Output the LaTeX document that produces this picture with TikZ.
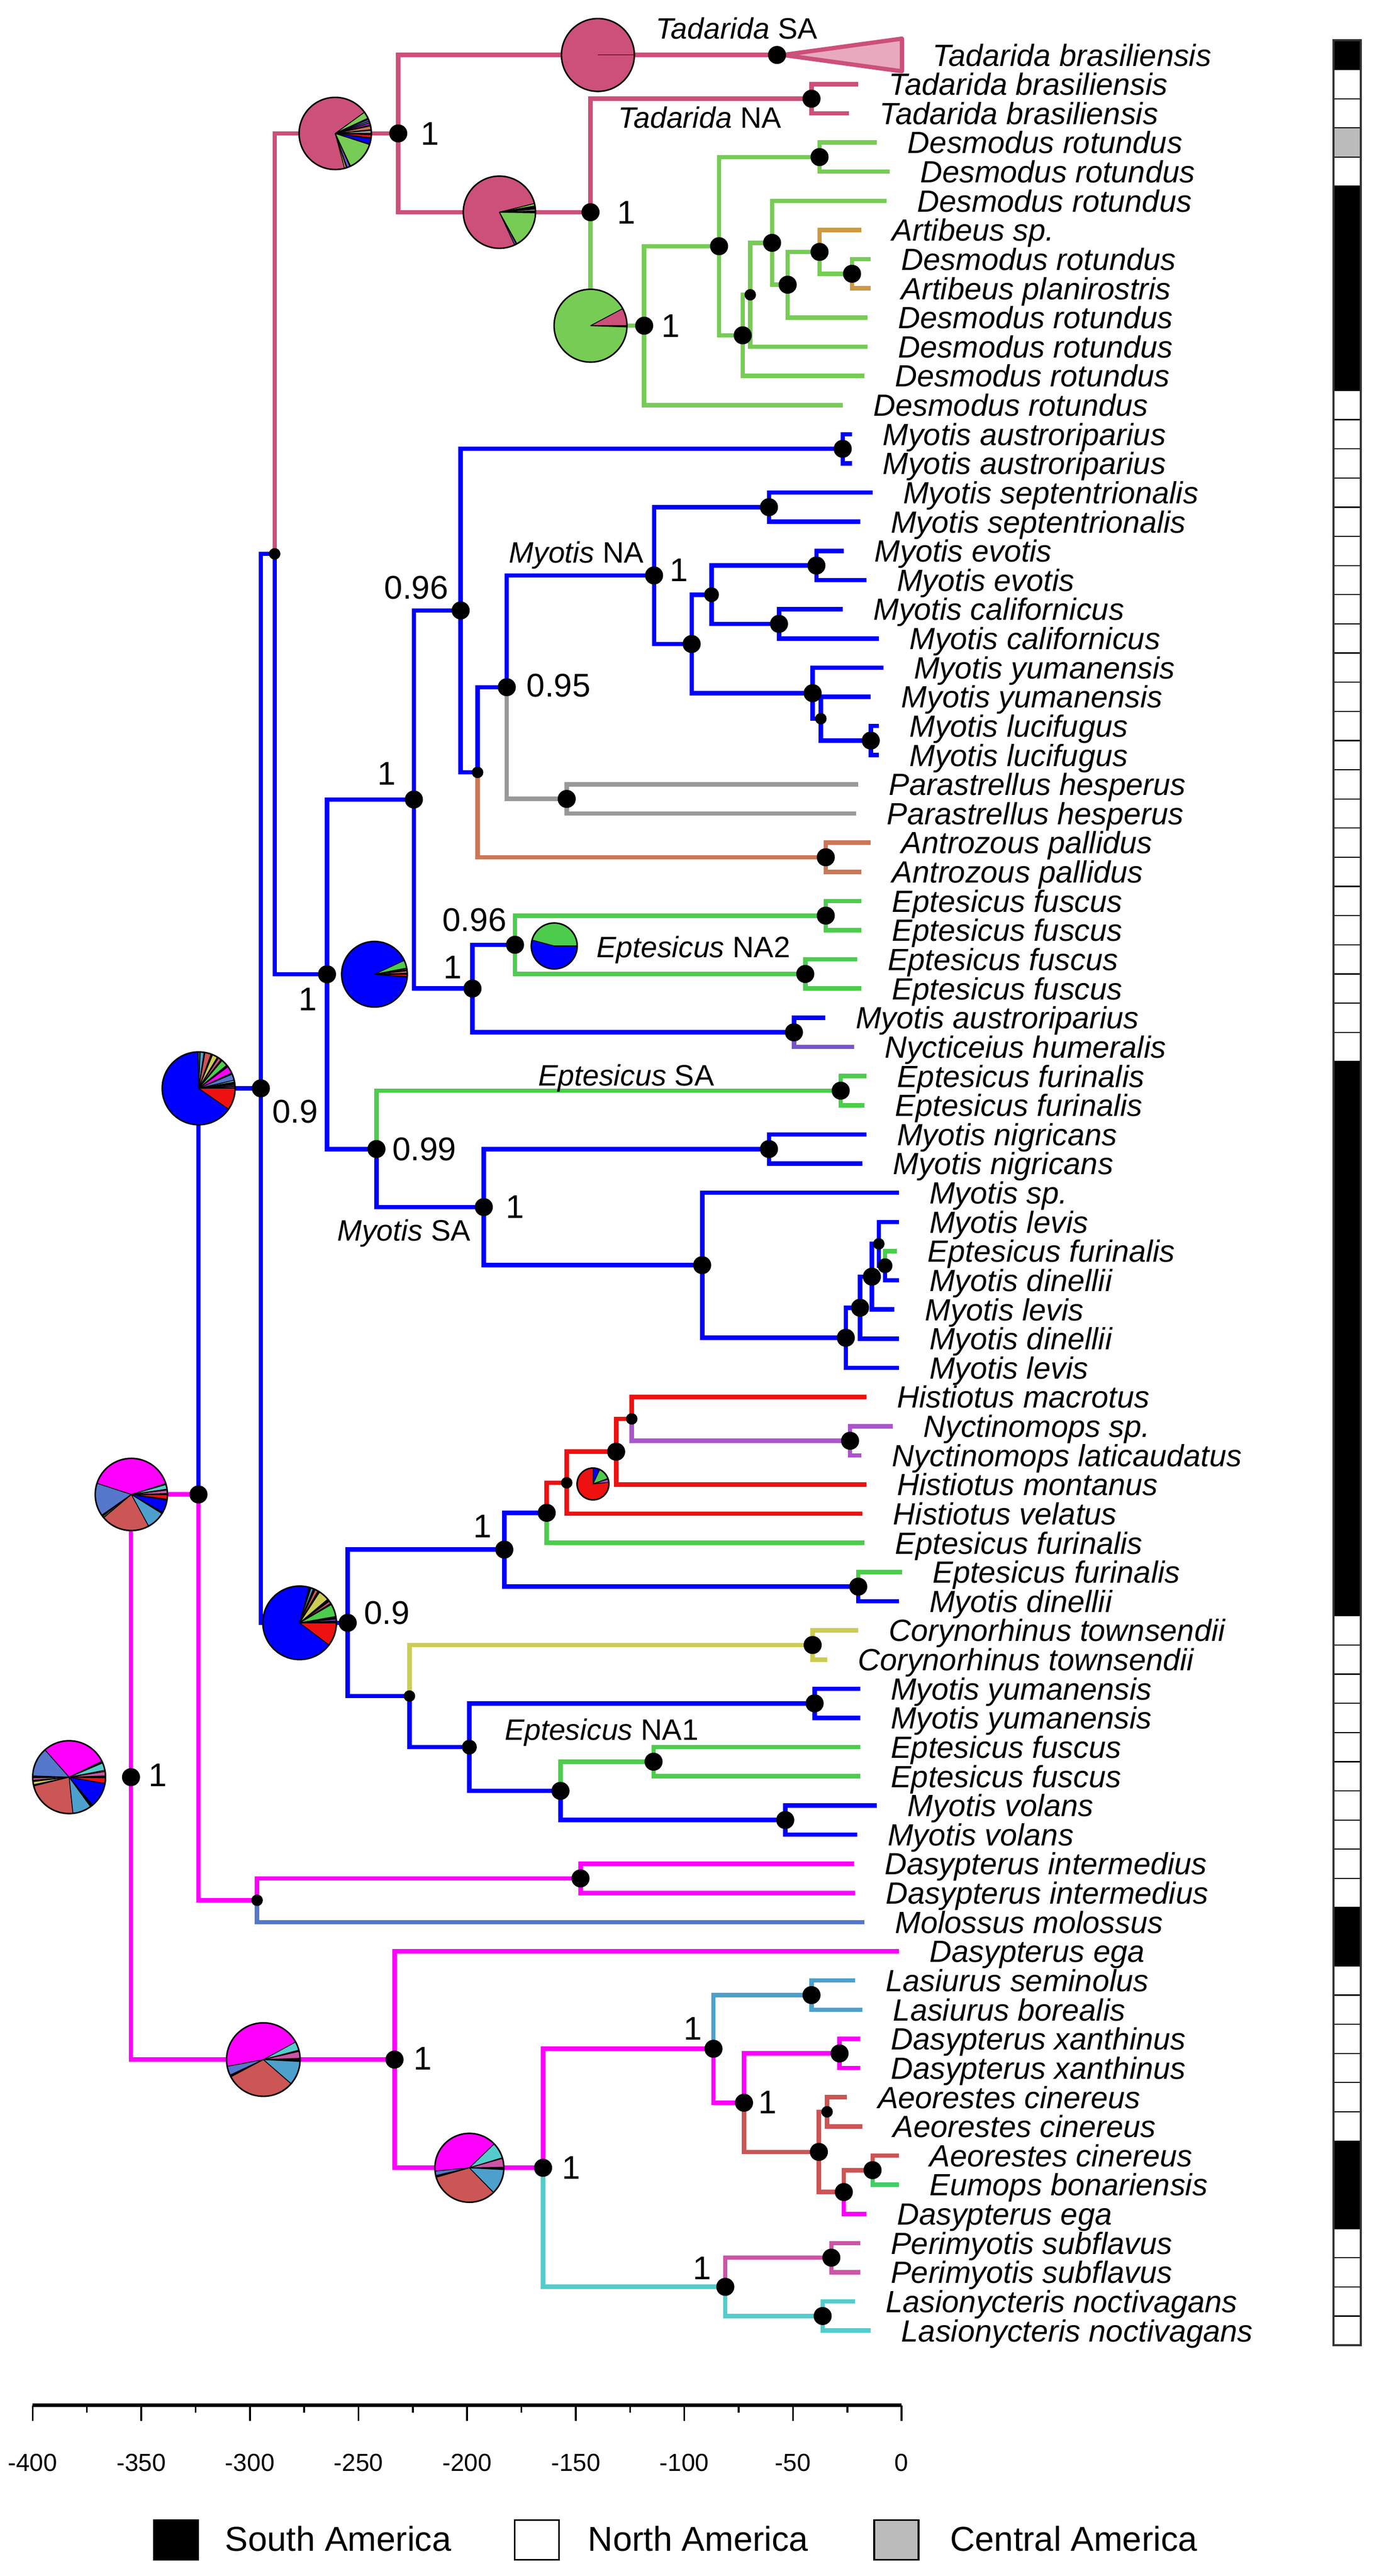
\documentclass[tikz,border=0pt]{standalone}
\usepackage{fontspec}
\setmainfont{Liberation Sans}
\definecolor{cTad}{HTML}{CC5079}
\definecolor{cTri}{HTML}{E8A9BE}
\definecolor{cDes}{HTML}{77CC55}
\definecolor{cArt}{HTML}{CC9944}
\definecolor{cMyo}{HTML}{0000FF}
\definecolor{cPar}{HTML}{999999}
\definecolor{cAnt}{HTML}{CC7755}
\definecolor{cEpt}{HTML}{4DCC4D}
\definecolor{cNyc}{HTML}{7755CC}
\definecolor{cHis}{HTML}{EE1111}
\definecolor{cNym}{HTML}{AA55CC}
\definecolor{cCor}{HTML}{CCCC55}
\definecolor{cDas}{HTML}{FF00FF}
\definecolor{cMol}{HTML}{5577CC}
\definecolor{cLas}{HTML}{4DA0CC}
\definecolor{cAeo}{HTML}{CC5555}
\definecolor{cEum}{HTML}{44CC66}
\definecolor{cPer}{HTML}{CC55A5}
\definecolor{cLsn}{HTML}{55CCCC}
\definecolor{cDkg}{HTML}{336633}
\definecolor{barGray}{HTML}{BBBBBB}
\tikzset{
 br/.style={line width=2.7pt},
 tiplab/.style={anchor=west,inner sep=0pt,xshift=18.5pt,font=\fontsize{18.7}{20}\selectfont\itshape,text height=13.4pt,text depth=0pt},
 sup/.style={inner sep=0pt,font=\fontsize{20}{22}\selectfont,text height=14.3pt,text depth=0pt},
 clade/.style={anchor=west,inner sep=0pt,font=\fontsize{18}{20}\selectfont,text height=12.9pt,text depth=0pt},
 axlab/.style={inner sep=0pt,font=\fontsize{15}{17}\selectfont,text height=10.74pt,text depth=0pt},
 leglab/.style={anchor=west,inner sep=0pt,font=\fontsize{21}{24}\selectfont,text height=15.04pt,text depth=0pt},
}
\newcommand{\brn}[3]{\draw[br,#1] (#2) |- (#3);}
\newcommand{\pienode}[3]{%
  \foreach \pa/\pb/\pc in {#3}{\fill[\pc] (#1) -- +(\pa:#2) arc[start angle=\pa, end angle=\pb, radius=#2] -- cycle;}
  \foreach \pa/\pb/\pc in {#3}{\draw[line width=0.5pt] (#1) -- +(\pa:#2);}
  \draw[line width=0.9pt] (#1) circle[radius=#2];}
\begin{document}
\begin{tikzpicture}[x=1pt,y=-17.78pt]
\begin{scope}[y=-1pt,yshift=33.5pt]
\useasboundingbox (0,0) rectangle (843,1569.9);
\end{scope}

% ---------- tips ----------
\foreach \i/\x/\nm in {0/549.4/Tadarida brasiliensis,1/522.8/Tadarida brasiliensis,2/517.0/Tadarida brasiliensis,
3/534.2/Desmodus rotundus,4/541.8/Desmodus rotundus,5/539.9/Desmodus rotundus,6/524.7/Artibeus sp.,
7/530.4/Desmodus rotundus,8/530.4/Artibeus planirostris,9/528.5/Desmodus rotundus,10/528.5/Desmodus rotundus,
11/526.6/Desmodus rotundus,12/513.3/Desmodus rotundus,13/519.0/Myotis austroriparius,14/519.0/Myotis austroriparius,
15/531.5/Myotis septentrionalis,16/523.9/Myotis septentrionalis,17/514.0/Myotis evotis,18/527.7/Myotis evotis,
19/513.3/Myotis californicus,20/535.3/Myotis californicus,21/538.0/Myotis yumanensis,22/530.4/Myotis yumanensis,
23/535.3/Myotis lucifugus,24/535.3/Myotis lucifugus,25/522.8/Parastrellus hesperus,26/521.6/Parastrellus hesperus,
27/530.4/Antrozous pallidus,28/524.7/Antrozous pallidus,29/524.7/Eptesicus fuscus,30/524.7/Eptesicus fuscus,
31/522.0/Eptesicus fuscus,32/524.7/Eptesicus fuscus,33/502.6/Myotis austroriparius,34/520.1/Nycticeius humeralis,
35/527.7/Eptesicus furinalis,36/526.6/Eptesicus furinalis,37/527.7/Myotis nigricans,38/525.4/Myotis nigricans,
39/547.5/Myotis sp.,40/547.5/Myotis levis,41/546.4/Eptesicus furinalis,42/547.5/Myotis dinellii,
43/544.8/Myotis levis,44/547.5/Myotis dinellii,45/547.5/Myotis levis,46/527.7/Histiotus macrotus,
47/543.7/Nyctinomops sp.,48/524.7/Nyctinomops laticaudatus,49/527.7/Histiotus montanus,50/525.4/Histiotus velatus,
51/526.6/Eptesicus furinalis,52/549.4/Eptesicus furinalis,53/547.5/Myotis dinellii,54/522.8/Corynorhinus townsendii,
55/503.8/Corynorhinus townsendii,56/523.9/Myotis yumanensis,57/523.9/Myotis yumanensis,58/523.9/Eptesicus fuscus,
59/523.9/Eptesicus fuscus,60/534.2/Myotis volans,61/522.0/Myotis volans,62/520.1/Dasypterus intermedius,
63/520.9/Dasypterus intermedius,64/526.6/Molossus molossus,65/547.5/Dasypterus ega,66/520.9/Lasiurus seminolus,
67/525.4/Lasiurus borealis,68/523.9/Dasypterus xanthinus,69/523.9/Dasypterus xanthinus,70/516.0/Aeorestes cinereus,
71/525.4/Aeorestes cinereus,72/547.5/Aeorestes cinereus,73/547.5/Eumops bonariensis,74/527.7/Dasypterus ega,
75/523.9/Perimyotis subflavus,76/523.9/Perimyotis subflavus,77/520.9/Lasionycteris noctivagans,78/530.4/Lasionycteris noctivagans}
{\coordinate (t\i) at (\x,\i); \node[tiplab] (l\i) at (t\i) {\nm};}

% ---------- internal nodes ----------
\coordinate (R) at (79.8,59.03);
\coordinate (P2) at (120.9,49.34);
\coordinate (P1) at (158.9,35.42);
\coordinate (S1) at (167.3,17.1);
\coordinate (T0) at (242.6,2.69);
\coordinate (TSA) at (473.3,0);
\coordinate (B) at (359.7,5.39);
\coordinate (TNA) at (494.3,1.5);
\coordinate (D0) at (392.4,9.28);
\coordinate (D1) at (438.0,6.555);
\coordinate (D2) at (499.2,3.5);
\coordinate (D3) at (452.4,9.61);
\coordinate (D4) at (457.0,8.22);
\coordinate (D5) at (470.3,6.44);
\coordinate (D6) at (479.8,7.875);
\coordinate (D7) at (499.2,6.75);
\coordinate (D8) at (519.0,7.5);
\coordinate (V1) at (199.2,31.51);
\coordinate (V2) at (252.1,25.52);
\coordinate (V3) at (229.3,37.5);
\coordinate (V4) at (280.6,19.04);
\coordinate (V5) at (287.8,32.0);
\coordinate (N13) at (513.3,13.5);
\coordinate (V6) at (290.9,24.59);
\coordinate (V7) at (308.7,21.67);
\coordinate (NAnt) at (503.0,27.5);
\coordinate (V8) at (398.4,17.84);
\coordinate (NPar) at (345.2,25.5);
\coordinate (N15) at (468.4,15.5);
\coordinate (V9) at (421.3,20.19);
\coordinate (V10) at (433.4,18.5);
\coordinate (N17) at (497.3,17.5);
\coordinate (N19) at (474.5,19.5);
\coordinate (V11) at (495.0,21.875);
\coordinate (V12) at (500.0,22.75);
\coordinate (V13) at (530.4,23.5);
\coordinate (V14) at (313.7,30.5);
\coordinate (N29) at (503.0,29.5);
\coordinate (N31) at (490.5,31.5);
\coordinate (N33) at (483.6,33.5);
\coordinate (N35) at (512.1,35.5);
\coordinate (V15) at (294.7,39.49);
\coordinate (N37) at (468.4,37.5);
\coordinate (V16) at (427.7,41.48);
\coordinate (V17) at (515.2,43.97);
\coordinate (V18) at (523.9,42.94);
\coordinate (V19) at (531.1,41.875);
\coordinate (V20) at (535.3,40.75);
\coordinate (V21) at (539.1,41.5);
\coordinate (L0) at (211.8,53.74);
\coordinate (L1) at (307.2,51.23);
\coordinate (L2) at (333.0,49.97);
\coordinate (L3) at (345.2,48.94);
\coordinate (L4) at (375.3,47.875);
\coordinate (L5) at (384.8,46.75);
\coordinate (N47) at (517.8,47.5);
\coordinate (N52) at (522.8,52.5);
\coordinate (L6) at (249.4,56.25);
\coordinate (N54) at (495.0,54.5);
\coordinate (L7) at (285.9,58.0);
\coordinate (N56) at (496.2,56.5);
\coordinate (L8) at (341.4,59.5);
\coordinate (L9) at (398.1,58.5);
\coordinate (N60) at (478.3,60.5);
\coordinate (M0) at (156.6,63.25);
\coordinate (N62) at (353.6,62.5);
\coordinate (Q0) at (240.3,68.71);
\coordinate (Q1) at (330.8,72.42);
\coordinate (Q2) at (434.6,68.34);
\coordinate (N66) at (494.3,66.5);
\coordinate (Q3) at (453.2,70.19);
\coordinate (N68) at (511.4,68.5);
\coordinate (Q4) at (498.8,71.875);
\coordinate (Q4a) at (503.8,70.5);
\coordinate (Q5) at (514.0,73.25);
\coordinate (Q5a) at (531.5,72.5);
\coordinate (Q6) at (441.8,76.5);
\coordinate (N75) at (506.4,75.5);
\coordinate (N77) at (501.1,77.5);

% ---------- branches ----------
\brn{cTad}{S1}{T0}
\brn{cTad}{T0}{TSA}
\brn{cTad}{T0}{B}
\brn{cTad}{B}{TNA}
\brn{cTad}{TNA}{t1}
\brn{cTad}{TNA}{t2}
\brn{cDes}{B}{D0}
\brn{cDes}{D0}{D1}
\brn{cDes}{D0}{t12}
\brn{cDes}{D1}{D2}
\brn{cDes}{D1}{D3}
\brn{cDes}{D2}{t3}
\brn{cDes}{D2}{t4}
\brn{cDes}{D3}{D4}
\brn{cDes}{D3}{t11}
\brn{cDes}{D4}{D5}
\brn{cDes}{D4}{t10}
\brn{cDes}{D5}{t5}
\brn{cDes}{D5}{D6}
\brn{cDes}{D6}{D7}
\brn{cDes}{D6}{t9}
\brn{cArt}{D7}{t6}
\brn{cDes}{D7}{D8}
\brn{cDes}{D8}{t7}
\brn{cArt}{D8}{t8}
\brn{cDas}{R}{P2}
\brn{cDas}{R}{Q0}
\brn{cMyo}{P2}{P1}
\brn{cDas}{P2}{M0}
\brn{cMyo}{P1}{S1}
\brn{cMyo}{P1}{L0}
\brn{cMyo}{S1}{V1}
\brn{cMyo}{V1}{V2}
\brn{cMyo}{V1}{V3}
\brn{cMyo}{V2}{V4}
\brn{cMyo}{V2}{V5}
\brn{cMyo}{V4}{N13}
\brn{cMyo}{N13}{t13}
\brn{cMyo}{N13}{t14}
\brn{cMyo}{V4}{V6}
\brn{cMyo}{V6}{V7}
\brn{cAnt}{V6}{NAnt}
\brn{cAnt}{NAnt}{t27}
\brn{cAnt}{NAnt}{t28}
\brn{cMyo}{V7}{V8}
\brn{cPar}{V7}{NPar}
\brn{cPar}{NPar}{t25}
\brn{cPar}{NPar}{t26}
\brn{cMyo}{V8}{N15}
\brn{cMyo}{N15}{t15}
\brn{cMyo}{N15}{t16}
\brn{cMyo}{V8}{V9}
\brn{cMyo}{V9}{V10}
\brn{cMyo}{V9}{V11}
\brn{cMyo}{V10}{N17}
\brn{cMyo}{V10}{N19}
\brn{cMyo}{N17}{t17}
\brn{cMyo}{N17}{t18}
\brn{cMyo}{N19}{t19}
\brn{cMyo}{N19}{t20}
\brn{cMyo}{V11}{t21}
\brn{cMyo}{V11}{V12}
\brn{cMyo}{V12}{t22}
\brn{cMyo}{V12}{V13}
\brn{cMyo}{V13}{t23}
\brn{cMyo}{V13}{t24}
\brn{cMyo}{V5}{V14}
\brn{cEpt}{V14}{N29}
\brn{cEpt}{V14}{N31}
\brn{cEpt}{N29}{t29}
\brn{cEpt}{N29}{t30}
\brn{cEpt}{N31}{t31}
\brn{cEpt}{N31}{t32}
\brn{cMyo}{V5}{N33}
\brn{cMyo}{N33}{t33}
\brn{cNyc}{N33}{t34}
\brn{cEpt}{V3}{N35}
\brn{cEpt}{N35}{t35}
\brn{cEpt}{N35}{t36}
\brn{cMyo}{V3}{V15}
\brn{cMyo}{V15}{N37}
\brn{cMyo}{N37}{t37}
\brn{cMyo}{N37}{t38}
\brn{cMyo}{V15}{V16}
\brn{cMyo}{V16}{t39}
\brn{cMyo}{V16}{V17}
\brn{cMyo}{V17}{V18}
\brn{cMyo}{V17}{t45}
\brn{cMyo}{V18}{V19}
\brn{cMyo}{V18}{t44}
\brn{cMyo}{V19}{V20}
\brn{cMyo}{V19}{t43}
\brn{cMyo}{V20}{t40}
\brn{cMyo}{V20}{V21}
\brn{cEpt}{V21}{t41}
\brn{cMyo}{V21}{t42}
\brn{cMyo}{L0}{L1}
\brn{cMyo}{L0}{L6}
\brn{cMyo}{L1}{L2}
\brn{cMyo}{L1}{N52}
\brn{cEpt}{N52}{t52}
\brn{cMyo}{N52}{t53}
\brn{cHis}{L2}{L3}
\brn{cEpt}{L2}{t51}
\brn{cHis}{L3}{L4}
\brn{cHis}{L3}{t50}
\brn{cHis}{L4}{L5}
\brn{cHis}{L4}{t49}
\brn{cHis}{L5}{t46}
\brn{cNym}{L5}{N47}
\brn{cNym}{N47}{t47}
\brn{cNym}{N47}{t48}
\brn{cCor}{L6}{N54}
\brn{cCor}{N54}{t54}
\brn{cCor}{N54}{t55}
\brn{cMyo}{L6}{L7}
\brn{cMyo}{L7}{N56}
\brn{cMyo}{N56}{t56}
\brn{cMyo}{N56}{t57}
\brn{cMyo}{L7}{L8}
\brn{cEpt}{L8}{L9}
\brn{cEpt}{L9}{t58}
\brn{cEpt}{L9}{t59}
\brn{cMyo}{L8}{N60}
\brn{cMyo}{N60}{t60}
\brn{cMyo}{N60}{t61}
\brn{cDas}{M0}{N62}
\brn{cDas}{N62}{t62}
\brn{cDas}{N62}{t63}
\brn{cMol}{M0}{t64}
\brn{cDas}{Q0}{t65}
\brn{cDas}{Q0}{Q1}
\brn{cDas}{Q1}{Q2}
\brn{cLsn}{Q1}{Q6}
\brn{cLas}{Q2}{N66}
\brn{cLas}{N66}{t66}
\brn{cLas}{N66}{t67}
\brn{cDas}{Q2}{Q3}
\brn{cDas}{Q3}{N68}
\brn{cDas}{N68}{t68}
\brn{cDas}{N68}{t69}
\brn{cAeo}{Q3}{Q4}
\brn{cAeo}{Q4}{Q4a}
\brn{cAeo}{Q4a}{t70}
\brn{cAeo}{Q4a}{t71}
\brn{cAeo}{Q4}{Q5}
\brn{cAeo}{Q5}{Q5a}
\brn{cAeo}{Q5a}{t72}
\brn{cEum}{Q5a}{t73}
\brn{cDas}{Q5}{t74}
\brn{cPer}{Q6}{N75}
\brn{cPer}{N75}{t75}
\brn{cPer}{N75}{t76}
\brn{cLsn}{Q6}{N77}
\brn{cLsn}{N77}{t77}
\brn{cLsn}{N77}{t78}

% collapsed clade
\coordinate (triA) at (477,0);
\coordinate (triB) at (549.4,-0.56);
\coordinate (triC) at (549.4,0.56);
\draw[cTad,line width=2.6pt,fill=cTri,line join=round] (triA) -- (triB) -- (triC) -- cycle;

% ---------- pies ----------
\coordinate (pR) at (42.1,59.03);
\coordinate (pP2) at (80,49.34);
\coordinate (pP1) at (121,35.42);
\coordinate (pL0) at (182.5,53.74);
\coordinate (pV1) at (228.1,31.51);
\coordinate (pQ0) at (160.4,68.71);
\coordinate (pQ1) at (285.9,72.42);
\coordinate (pT0) at (204.2,2.69);
\coordinate (pB) at (304.2,5.39);
\coordinate (pD0) at (359.7,9.28);
\coordinate (pTSA) at (364.2,0);
\coordinate (pE2) at (337.6,30.54);
\coordinate (pH) at (361.2,48.98);
\pienode{pR}{22.2pt}{26/131.5/cDas,131.5/178/cMol,178/181/black,181/185/cPer,185/187/black,187/192/cCor,192/194/black,194/276/cAeo,276/306/cLas,306/310/black,310/350/cMyo,350/359/cHis,359/362/black,362/369/cPer,369/371/cAnt,371/383/cLsn,383/386/black}
\pienode{pP2}{22pt}{17.6/162/cDas,162/215/cMol,215/217/black,217/220/cDkg,220/298.6/cAeo,298.6/328/cLas,328/330.5/black,330.5/351/cMyo,351/352.5/black,352.5/360/cHis,360/361.5/black,361.5/367/cPer,367/368.5/black,368.5/376/cLsn,376/377.6/black}
\pienode{pP1}{22.2pt}{91/325.2/cMyo,325.2/360/cHis,360/361/black,361/363/cAnt,363/364/black,364/366/cNyc,366/368/black,368/369/cDkg,369/370/black,370/373/cLsn,373/383/cMol,383/385/black,385/396.5/cDas,396.5/399.5/black,399.5/410/cEpt,410/412/black,412/417/cTad,417/419/black,419/427.5/cCor,427.5/430/black,430/440/cAeo,440/441.4/black,441.4/447.6/cLas,447.6/448/black,448/451/cDkg}
\pienode{pL0}{22.4pt}{75/323/cMyo,323/360/cHis,360/363/black,363/366/cNyc,366/370/black,370/390/cEpt,390/392/black,392/396/cTad,396/400/black,400/417/cCor,417/420/black,420/425/cAeo,425/428/black,428/432/cLas,432/435/black}
\pienode{pV1}{20pt}{25/355/cMyo,355/356/black,356/360/cHis,360/362/black,362/366/cAnt,366/368/black,368/370/cTad,370/371/black,371/385/cEpt}
\pienode{pQ0}{22.4pt}{28.6/190.7/cDas,190.7/205/cMol,205/208/black,208/319/cAeo,319/357/cLas,357/362/black,362/373/cPer,373/375/black,375/388.6/cLsn}
\pienode{pQ1}{21pt}{44/185.5/cDas,185.5/193/cMol,193/196/black,196/314.4/cAeo,314.4/357/cLas,357/361/black,361/376/cPer,376/377/black,377/404/cLsn}
\pienode{pT0}{22pt}{36/285/cTad,285/288/cCor,288/289/black,289/294/cNyc,294/295/black,295/342/cDes,342/343/black,343/352/cMyo,352/353/black,353/358/cHis,358/360/black,360/365/cPar,365/366/black,366/372/cAnt,372/374/black,374/377/cDas,377/380/cNyc,380/383/cMol,383/385/black,385/396/cDes}
\pienode{pB}{22pt}{14/295/cTad,295/298/cNyc,298/299/black,299/359/cDes,359/362/black,362/365/cPar,365/368/black,368/369/cHis,369/370/black,370/374/cDes}
\pienode{pD0}{22.2pt}{28/358/cDes,358/360/black,360/388/cTad}
\pienode{pTSA}{22.2pt}{0/360/cTad}
\pienode{pE2}{14pt}{0/165/cEpt,165/360/cMyo}
\pienode{pH}{9.7pt}{90/366/cHis,366/378/cNym,378/380/black,380/425/cEpt,425/450/cMyo}

% ---------- node dots ----------
\foreach \n in {R,P2,P1,T0,TSA,B,TNA,D0,D1,D2,D3,D5,D6,D7,D8,V1,V2,V3,V4,V5,N13,V7,NAnt,V8,NPar,N15,V9,N17,N19,V11,V13,V14,N29,N31,N33,N35,V15,N37,V16,V17,V18,V19,L0,L1,L2,L4,N47,N52,N54,N56,L8,L9,N60,N62,Q0,Q1,Q2,N66,Q3,N68,Q4,Q5,Q5a,Q6,N75,N77}
  {\fill (\n) circle[radius=5.5pt];}
\foreach \n in {V10,L7,V21} {\fill (\n) circle[radius=4.5pt];}
\foreach \n in {S1,D4,V6,V12,L3,L5,L6,M0,Q4a,V20} {\fill (\n) circle[radius=3.5pt];}

% ---------- support values ----------
\node[sup] (s1) at (262,2.69) {1};
\node[sup] (s2) at (381.5,5.39) {1};
\node[sup] (s3) at (408.5,9.28) {1};
\node[sup] (s4) at (413.7,17.64) {1};
\node[sup] (s5) at (253.6,18.24) {0.96};
\node[sup] (s6) at (340.3,21.6) {0.95};
\node[sup] (s7) at (235.7,24.61) {1};
\node[sup] (s8) at (187.4,32.35) {1};
\node[sup] (s9) at (289,29.64) {0.96};
\node[sup] (s10) at (275.6,31.25) {1};
\node[sup] (s11) at (179.8,36.2) {0.9};
\node[sup] (s12) at (258.5,37.49) {0.99};
\node[sup] (s13) at (313.7,39.46) {1};
\node[sup] (s14) at (293.9,50.42) {1};
\node[sup] (s15) at (235.7,53.39) {0.9};
\node[sup] (s16) at (96.2,58.95) {1};
\node[sup] (s17) at (257.4,68.65) {1};
\node[sup] (s18) at (422,67.64) {1};
\node[sup] (s19) at (467.6,70.16) {1};
\node[sup] (s20) at (347.9,72.41) {1};
\node[sup] (s21) at (427.7,75.84) {1};

% ---------- clade labels ----------
\node[clade] (c1) at (399.2,-0.92) {\textit{Tadarida} SA};
\node[clade] (c2) at (376.4,2.15) {\textit{Tadarida} NA};
\node[clade] (c3) at (309.9,17.05) {\textit{Myotis} NA};
\node[clade] (c4) at (363.1,30.57) {\textit{Eptesicus} NA2};
\node[clade] (c5) at (327.7,34.97) {\textit{Eptesicus} SA};
\node[clade] (c6) at (205.3,40.29) {\textit{Myotis} SA};
\node[clade] (c7) at (307.2,57.39) {\textit{Eptesicus} NA1};

% ---------- distribution bar ----------
\foreach \i in {0,...,78} {\draw[line width=0.7pt,fill=white] (812.3,\i-0.5) rectangle (829,\i+0.5);}
\draw[line width=0.7pt,fill=barGray] (812.3,2.5) rectangle (829,3.5);
\foreach \a/\b in {-0.5/0.5,4.5/11.5,34.5/53.5,63.5/65.5,71.5/74.5} {\fill[black] (812.3,\a) rectangle (829,\b);}
\draw[line width=1.3pt,black!80] (812.3,-0.5) rectangle (829,78.5);

% ---------- axis and legend ----------
\begin{scope}[y=-1pt,yshift=33.5pt]
\draw[line width=2pt] (19.9,1465.8) -- (549.2,1465.8);
\foreach \t in {-400,-350,...,0} {
  \draw[line width=1.1pt] ({549.2+1.3233*\t},1465.8) -- ++(0,9.5);
  \node[axlab] (ax\t) at ({549.2+1.3233*\t},1500.6) {\t};}
\foreach \t in {-375,-325,...,-25} {\draw[line width=1.1pt] ({549.2+1.3233*\t},1465.8) -- ++(0,4.7);}
\draw[line width=1pt,fill=black] (93.8,1535.7) rectangle (120.8,1560);
\node[leglab] (g1) at (137,1547) {South America};
\draw[line width=1pt,fill=white] (313.6,1535.7) rectangle (340.6,1560);
\node[leglab] (g2) at (358,1547) {North America};
\draw[line width=1pt,fill=barGray] (532.5,1535.7) rectangle (559.5,1560);
\node[leglab] (g3) at (578.6,1547) {Central America};
\end{scope}
\end{tikzpicture}
\end{document}
